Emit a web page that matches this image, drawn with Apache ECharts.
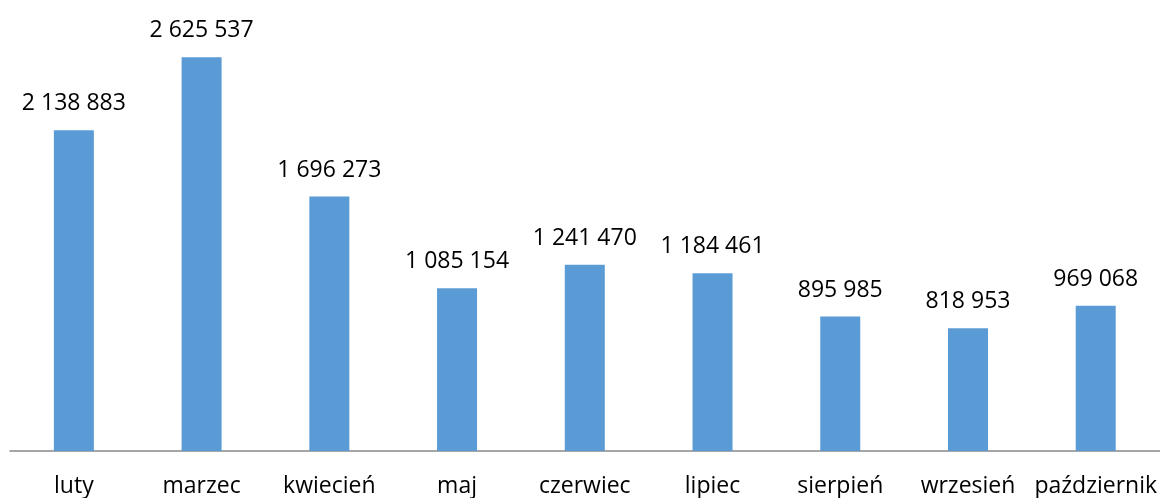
<!DOCTYPE html>
<html>
<head>
<meta charset="utf-8">
<script src="https://cdn.jsdelivr.net/npm/echarts@6/dist/echarts.min.js"></script>
<style>
  html, body { margin: 0; padding: 0; background: #fff; }
  #chart { width: 1160px; height: 498px; }
</style>
</head>
<body>
<div id="chart"></div>
<script>
// Monthly totals
var months = ['luty', 'marzec', 'kwiecień', 'maj', 'czerwiec', 'lipiec', 'sierpień', 'wrzesień', 'październik'];
var totals = [2138883, 2625537, 1696273, 1085154, 1241470, 1184461, 895985, 818953, 969068];

// Thousands separated by spaces, e.g. 2 138 883
function fmt(v) {
  return String(v).replace(/\B(?=(\d{3})+(?!\d))/g, ' ');
}

var FONT = '"Open Sans", "Noto Sans", sans-serif';

var chart = echarts.init(document.getElementById('chart'));
chart.setOption({
  animation: false,
  grid: { left: 10, right: 0, top: 1, bottom: 46, containLabel: false },
  xAxis: {
    type: 'category',
    data: months,
    axisLine: { show: true, lineStyle: { color: '#898989', width: 1.5 } },
    axisTick: { show: false },
    axisLabel: { color: '#000', fontFamily: FONT, fontSize: 23, margin: 24, interval: 0 }
  },
  yAxis: {
    type: 'value',
    min: 0,
    max: 3000000,
    show: false,
    splitLine: { show: false }
  },
  series: [{
    type: 'bar',
    data: totals,
    barWidth: 40,
    itemStyle: { color: '#5B9BD5' },
    label: {
      show: true,
      position: 'top',
      distance: 15,
      color: '#000',
      fontFamily: FONT,
      fontSize: 23,
      formatter: function (p) { return fmt(p.value); }
    }
  }]
});
</script>
</body>
</html>
